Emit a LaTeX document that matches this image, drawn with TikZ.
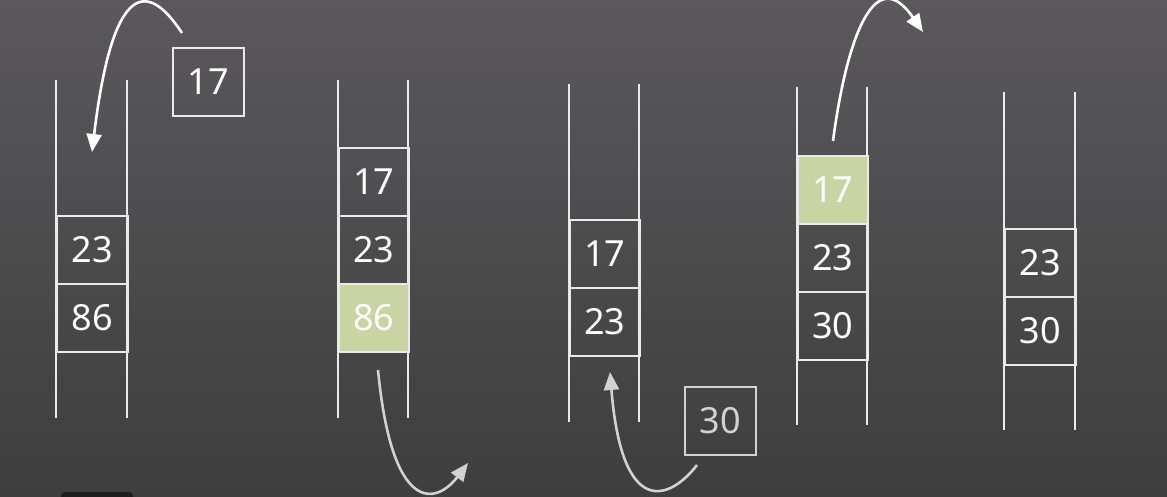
\documentclass[tikz,border=0pt]{standalone}
\usepackage{fontspec}
\setmainfont{Noto Sans}
\usetikzlibrary{arrows.meta}
\definecolor{bgtop}{HTML}{5A585B}
\definecolor{bgbot}{HTML}{3E3E3E}
\definecolor{ln}{HTML}{EAEAEA}
\definecolor{lngray}{HTML}{D2D2D2}
\definecolor{grn}{HTML}{C8D5A2}
\definecolor{bar}{HTML}{1E1E1E}
\begin{document}
\begin{tikzpicture}[x=1pt,y=-1pt,
  cell/.style={draw=ln, line width=1.8pt, minimum width=71pt, minimum height=68pt,
    inner sep=0pt, anchor=north west, text=white, font=\fontsize{36}{40}\selectfont},
  hot/.style={cell, fill=grn},
  loose/.style={cell},
  loosegray/.style={cell, draw=lngray, text=lngray},
  rail/.style={draw=ln, line width=1.8pt},
  arr/.style={draw=white, line width=2.6pt, -{Triangle[length=18pt,width=15pt]}},
  arrgray/.style={draw=lngray, line width=2.6pt, -{Triangle[length=18pt,width=15pt]}}]
\useasboundingbox (0,0) rectangle (1167,497);
\fill[top color=bgtop, bottom color=bgbot] (0,0) rectangle (1167,497);
\fill[bar, rounded corners=4pt] (61,492) rectangle (133,510);

% stack 1
\draw[rail] (56,80) -- (56,418) (127,80) -- (127,418);
\node[cell] (a23) at (56,215) {23};
\node[cell] (a86) at (56,283) {86};
\node[loose] (b17) at (172,47) {17};
\coordinate (s1) at (182,33);
\coordinate (t1) at (92,152);
\draw[arr] (s1) .. controls (155,-8) and (115,-38) .. (t1);

% stack 2
\draw[rail] (338,80) -- (338,418) (408,80) -- (408,418);
\node[cell, minimum width=70pt] (c17) at (338,147) {17};
\node[cell, minimum width=70pt] (c23) at (338,215) {23};
\node[hot, minimum width=70pt] (c86) at (338,283) {86};
\coordinate (s2) at (378,370);
\coordinate (t2) at (468,463);
\draw[arrgray] (s2) .. controls (392,515) and (436,505) .. (t2);

% stack 3
\draw[rail] (569,84) -- (569,422) (639,84) -- (639,422);
\node[cell, minimum width=70pt] (d17) at (569,219) {17};
\node[cell, minimum width=70pt] (d23) at (569,287) {23};
\node[loosegray] (b30) at (684,386) {30};
\coordinate (s3) at (697,465);
\coordinate (t3) at (610,372);
\draw[arrgray] (s3) .. controls (670,500) and (622,520) .. (t3);

% stack 4
\draw[rail] (797,87) -- (797,425) (867,87) -- (867,425);
\node[hot, minimum width=70pt] (e17) at (797,155) {17};
\node[cell, minimum width=70pt] (e23) at (797,223) {23};
\node[cell, minimum width=70pt] (e30) at (797,291) {30};
\coordinate (s4) at (833,141);
\coordinate (t4) at (923,32);
\draw[arr] (s4) .. controls (845,50) and (872,-42) .. (t4);

% stack 5
\draw[rail] (1004,92) -- (1004,430) (1075,92) -- (1075,430);
\node[cell] (f23) at (1004,228) {23};
\node[cell] (f30) at (1004,296) {30};
\end{tikzpicture}
\end{document}
